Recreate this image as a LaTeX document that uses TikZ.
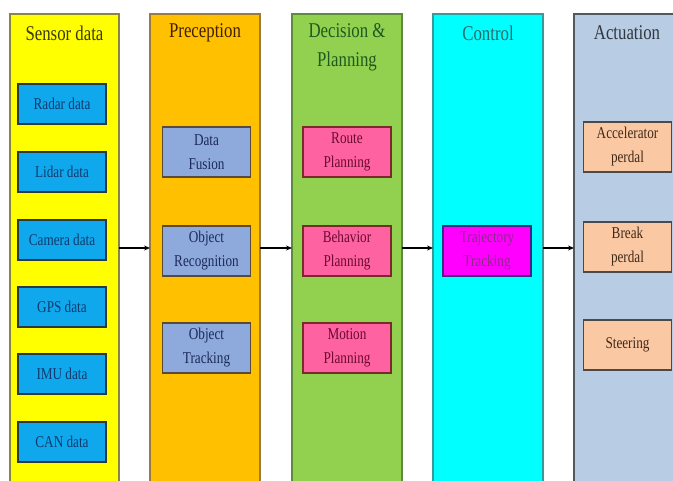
\documentclass[tikz,border=0pt]{standalone}
\usepackage{fontspec}
\setmainfont{Liberation Serif}[FakeStretch=0.8]
\usetikzlibrary{arrows.meta}
\definecolor{cyel}{HTML}{FFFF00}\definecolor{cyelB}{HTML}{8A8540}\definecolor{cyelT}{HTML}{3A3A10}
\definecolor{corg}{HTML}{FFC000}\definecolor{corgB}{HTML}{9A7A40}\definecolor{corgT}{HTML}{402000}
\definecolor{cgrn}{HTML}{92D050}\definecolor{cgrnB}{HTML}{5E8A40}\definecolor{cgrnT}{HTML}{1E5A1E}
\definecolor{ccyn}{HTML}{00FFFF}\definecolor{ccynB}{HTML}{3A9A9A}\definecolor{ccynT}{HTML}{2A6A6A}
\definecolor{cact}{HTML}{B8CCE4}\definecolor{cactB}{HTML}{505860}\definecolor{cactT}{HTML}{303840}
\definecolor{bsen}{HTML}{10A8EC}\definecolor{bsenB}{HTML}{2A3A40}\definecolor{bsenT}{HTML}{103A70}
\definecolor{bper}{HTML}{8EA9DB}\definecolor{bperB}{HTML}{5A4A3A}\definecolor{bperT}{HTML}{1A2A5A}
\definecolor{bdec}{HTML}{FF62A0}\definecolor{bdecB}{HTML}{7A2A2A}\definecolor{bdecT}{HTML}{6A0A30}
\definecolor{bctl}{HTML}{FF00FF}\definecolor{bctlB}{HTML}{3A2A80}\definecolor{bctlT}{HTML}{8A2A8A}
\definecolor{bact}{HTML}{FAC8A2}\definecolor{bactB}{HTML}{4A4A4A}\definecolor{bactT}{HTML}{402A1A}
\begin{document}
\begin{tikzpicture}[x=1pt,y=-1pt,
  colm/.style={rectangle,inner sep=0pt,outer sep=0pt,minimum width=110pt,minimum height=468pt,line width=1.3pt},
  ttl/.style={font=\fontsize{21}{29}\selectfont,align=center,inner sep=0pt},
  bx/.style={rectangle,inner sep=0pt,outer sep=0pt,minimum width=88pt,minimum height=50pt,line width=1.6pt,
    font=\fontsize{16.5}{24}\selectfont,align=center},
  sbx/.style={bx,minimum height=40pt,fill=bsen,draw=bsenB,text=bsenT},
  pbx/.style={bx,fill=bper,draw=bperB,text=bperT},
  dbx/.style={bx,fill=bdec,draw=bdecB,text=bdecT},
  cbx/.style={bx,fill=bctl,draw=bctlB,text=bctlT},
  abx/.style={bx,fill=bact,draw=bactB,text=bactT},
  arr/.style={line width=1.4pt,-{Stealth[length=6pt,width=5pt]}}]
\clip (0,0) rectangle (673,481);
\fill[white] (0,0) rectangle (673,481);
% columns
\node[colm,fill=cyel,draw=cyelB,minimum width=109pt] (c1) at (64.5,248) {};
\node[colm,fill=corg,draw=corgB] (c2) at (205,248) {};
\node[colm,fill=cgrn,draw=cgrnB] (c3) at (347,248) {};
\node[colm,fill=ccyn,draw=ccynB] (c4) at (488,248) {};
\node[colm,fill=cact,draw=cactB,minimum width=111pt] (c5) at (629.5,248) {};
% titles
\node[ttl,text=cyelT] (t1) at (64.5,33) {Sensor data};
\node[ttl,text=corgT] (t2) at (205,33) {Preception};
\node[ttl,text=cgrnT] (t3) at (347,47) {Decision \&\\Planning};
\node[ttl,text=ccynT] (t4) at (488,33) {Control};
\node[ttl,text=cactT] (t5) at (627,33) {Actuation};
% sensor boxes
\node[sbx] (s1) at (62,104) {Radar data};
\node[sbx] (s2) at (62,172) {Lidar data};
\node[sbx] (s3) at (62,240) {Camera data};
\node[sbx] (s4) at (62,307) {GPS data};
\node[sbx] (s5) at (62,374) {IMU data};
\node[sbx] (s6) at (62,442) {CAN data};
% perception
\node[pbx] (p1) at (206.5,152) {Data\\Fusion};
\node[pbx] (p2) at (206.5,251) {Object\\Recognition};
\node[pbx] (p3) at (206.5,348) {Object\\Tracking};
% decision
\node[dbx] (d1) at (347,152) {Route\\Planning};
\node[dbx] (d2) at (347,251) {Behavior\\Planning};
\node[dbx] (d3) at (347,348) {Motion\\Planning};
% control
\node[cbx] (k1) at (487,251) {Trajectory\\Tracking};
% actuation
\node[abx] (a1) at (627.5,147) {Accelerator\\perdal};
\node[abx] (a2) at (627.5,247) {Break\\perdal};
\node[abx] (a3) at (627.5,345) {Steering};
% arrows
\draw[arr] (c1.east) -- (c2.west);
\draw[arr] (c2.east) -- (c3.west);
\draw[arr] (c3.east) -- (c4.west);
\draw[arr] (c4.east) -- (c5.west);
\end{tikzpicture}
\end{document}
